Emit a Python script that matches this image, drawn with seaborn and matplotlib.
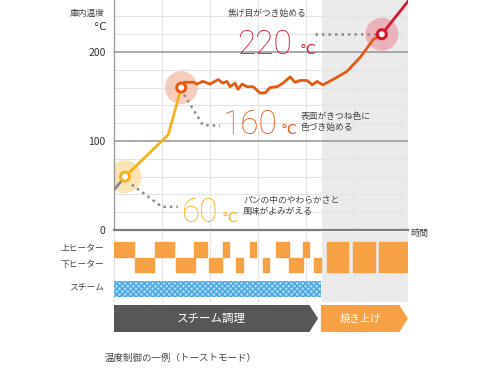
import matplotlib
matplotlib.use("Agg")
import matplotlib.pyplot as plt
import numpy as np
import pandas as pd
import seaborn as sns
from matplotlib.patches import Polygon

# time axis in arbitrary units (one grid cell = 1), temperature in deg C
gray_t = [0.00, 0.23]
gray_temp = [45, 60]
yellow_t = [0.23, 1.13, 1.40]
yellow_temp = [60, 107, 160]
orange_t = [1.40, 1.46, 1.65, 1.73, 1.85, 2.00, 2.17, 2.27, 2.35, 2.42, 2.52, 2.58,
            2.67, 2.77, 2.90, 3.04, 3.15, 3.25, 3.40, 3.52, 3.67, 3.77, 3.88, 4.02,
            4.13, 4.23, 4.35, 4.56, 4.85, 5.13, 5.40, 5.58]
orange_temp = [160, 166, 166, 164, 167, 164, 169, 165, 167, 161, 165, 158,
               164, 161, 161, 154, 154, 160, 161, 165, 172, 166, 168, 168,
               163, 167, 163, 169, 178, 194, 214, 220]
red_t = [5.58, 6.20]
red_temp = [220, 262]

key_t = [0.23, 1.40, 5.58]
key_temp = [60, 160, 220]
key_notes = ["パンの中のやわらかさと\n風味がよみがえる",
             "表面がきつね色に\n色づき始める",
             "焦げ目がつき始める"]

# heater / steam schedule: (start, duration)
upper_on = [(0.00, 0.42), (0.85, 0.40), (1.67, 0.27), (2.27, 0.13), (2.83, 0.13),
            (3.38, 0.27), (3.94, 0.12)]
lower_on = [(0.44, 0.39), (1.29, 0.40), (1.98, 0.27), (2.54, 0.15), (3.10, 0.13),
            (3.65, 0.29), (4.17, 0.14)]
both_on = [(4.44, 0.43), (4.98, 0.46), (5.52, 0.60)]
steam_on = [(0.00, 4.31)]

phase_names = ["スチーム調理", "焼き上げ"]
phase_start = [0.00, 4.31]
phase_end = [4.25, 6.125]

T_MAX = 6.125
BAKE_START = 4.33
Y_MAX = 258.4

YELLOW = "#f5b21c"
ORANGE = "#e35c14"
RED = "#d6172f"
HEAT = "#f7a145"
DARK = "#575757"
SHADE = "#ebebeb"
TXT = "#444444"

sns.set_theme(style="white")
plt.rcParams["font.family"] = ["Noto Sans CJK JP", "DejaVu Sans"]

W, H = 490, 368
fig = plt.figure(figsize=(W / 100, H / 100), dpi=100)


def box(x0, y0, x1, y1):
    return [x0 / W, 1 - y1 / H, (x1 - x0) / W, (y1 - y0) / H]


def ftext(px, py, s, **kw):
    fig.text(px / W, 1 - py / H, s, **kw)


# ---- temperature chart
ax = fig.add_axes(box(114, 0, 408, 230))
ax.set_xlim(0, T_MAX)
ax.set_ylim(0, Y_MAX)
ax.axvspan(BAKE_START, T_MAX, color=SHADE, lw=0, zorder=0)
for v in range(20, 260, 20):
    if v % 100:
        ax.axhline(v, color="#e4e4e4", lw=0.8, zorder=0.5)
for t in range(1, 7):
    ax.axvline(t, color="#e4e4e4", lw=0.8, zorder=0.5)
for v in (100, 200):
    ax.axhline(v, color="#9c9c9c", lw=1.2, zorder=0.6)

segs = []
for name, ts, vs in [("gray", gray_t, gray_temp), ("yellow", yellow_t, yellow_temp),
                     ("orange", orange_t, orange_temp), ("red", red_t, red_temp)]:
    segs.append(pd.DataFrame({"t": ts, "temp": vs, "seg": name}))
curve = pd.concat(segs, ignore_index=True)
sns.lineplot(data=curve, x="t", y="temp", hue="seg", sort=False, estimator=None,
             palette={"gray": "#8a8a8a", "yellow": YELLOW, "orange": ORANGE, "red": RED},
             lw=2.0, legend=False, ax=ax, zorder=3)

key_cols = [YELLOW, ORANGE, RED]
halo_cols = ["#f9dc9c", "#f3bca8", "#eba0aa"]
ax.scatter(key_t, key_temp, s=560, color=halo_cols, alpha=0.75, lw=0, zorder=2)
ax.scatter(key_t, key_temp, s=42, facecolor="white", edgecolor=key_cols, lw=2.2, zorder=4)

# dotted leaders
lead = dict(color="#8c8c8c", lw=1.8, ls=(0, (1, 1.6)), zorder=2.5)
ax.plot([0.37, 1.00, 1.33], [51, 26, 26], **lead)
ax.plot([1.46, 1.85, 2.21], [152, 118, 117], **lead)
ax.plot([4.19, 5.45], [220, 220], **lead)

ax.set_yticks([0, 100, 200])
ax.set_xticks([])
ax.tick_params(axis="y", length=0, pad=6, labelsize=7.5, labelcolor="#333333")
ax.set_xlabel("")
ax.set_ylabel("")
for s in ("top", "right"):
    ax.spines[s].set_visible(False)
ax.spines["left"].set_color("#9a9a9a")
ax.spines["left"].set_linewidth(1.0)
ax.spines["bottom"].set_color("#7d7d7d")
ax.spines["bottom"].set_linewidth(1.6)

big = dict(fontfamily=["Roboto", "DejaVu Sans"], fontweight="light", va="baseline", fontsize=24)
deg = dict(fontfamily=["DejaVu Sans"], va="baseline", fontsize=10)
note = dict(fontsize=6.3, color=TXT, va="center")
ftext(237, 54, str(key_temp[2]), color=RED, **big)
ftext(300, 54, "°C", color=RED, **deg)
ftext(223, 134, str(key_temp[1]), color=ORANGE, **big)
ftext(281, 134, "°C", color=ORANGE, **deg)
ftext(182, 222, str(key_temp[0]), color=YELLOW, **big)
ftext(222, 222, "°C", color=YELLOW, **deg)
ftext(228, 13, key_notes[2], **note)
ftext(301, 122, key_notes[1], linespacing=1.35, **note)
ftext(243, 206, key_notes[0], linespacing=1.35, **note)

ftext(105, 13, "庫内温度", fontsize=6.3, color=TXT, ha="right", va="center")
ftext(107, 27, "°C", fontsize=7.5, color="#333333", ha="right", va="center",
      fontfamily=["DejaVu Sans"])
ftext(410, 233, "時間", fontsize=6.5, color=TXT, va="center")

# ---- heater / steam panel
ax2 = fig.add_axes(box(114, 232, 408, 302))
ax2.set_xlim(0, T_MAX)
ax2.set_ylim(302, 232)
ax2.axis("off")
ax2.axvspan(BAKE_START, T_MAX, color=SHADE, lw=0, zorder=0)
for t in range(0, 7):
    ax2.axvline(t, color="#e4e4e4", lw=0.8, zorder=0.5)
ax2.broken_barh(upper_on, (242, 15), color=HEAT, zorder=2)
ax2.broken_barh(lower_on, (258, 14), color=HEAT, zorder=2)
ax2.broken_barh(both_on, (242, 30), color=HEAT, zorder=2)
ax2.broken_barh(steam_on, (281, 16), facecolor="#a8d8f2", edgecolor="#4aa8df",
                hatch="xxxxxx", lw=0, zorder=2)
ftext(104, 248, "上ヒーター", fontsize=6.3, color=TXT, ha="right", va="center")
ftext(104, 264, "下ヒーター", fontsize=6.3, color=TXT, ha="right", va="center")
ftext(104, 288, "スチーム", fontsize=6.3, color=TXT, ha="right", va="center")

# ---- phase arrows
ax3 = fig.add_axes(box(114, 305, 408, 332))
ax3.set_xlim(0, T_MAX)
ax3.set_ylim(0, 1)
ax3.axis("off")
tip = 0.18
for name, a, b, col in zip(phase_names, phase_start, phase_end, [DARK, HEAT]):
    ax3.add_patch(Polygon([(a, 0), (b - tip, 0), (b, 0.5), (b - tip, 1), (a, 1)],
                          closed=True, color=col, lw=0))
    ax3.text((a + b - tip) / 2, 0.5, name, color="white", ha="center", va="center",
             fontsize=8.3 if col == DARK else 7.5)

ftext(105, 358, "温度制御の一例（トーストモード）", fontsize=6.8, color=TXT, va="center")

fig.savefig("out.png", dpi=100)
